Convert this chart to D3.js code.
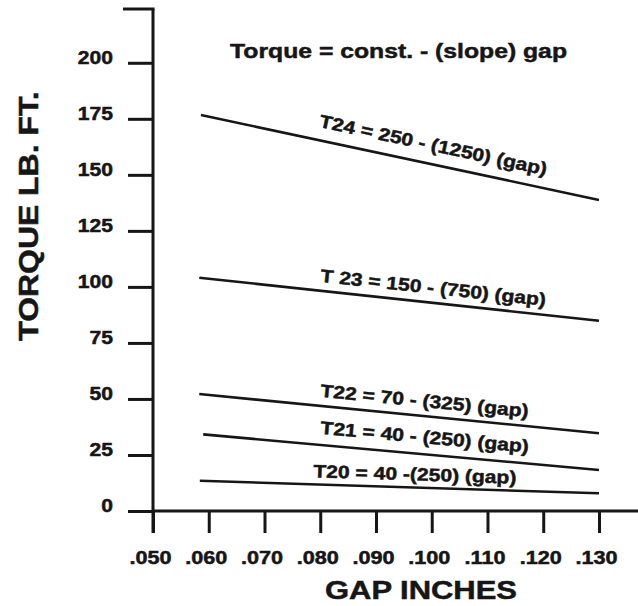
<!DOCTYPE html>
<html>
<head>
<meta charset="utf-8">
<script src="https://cdn.jsdelivr.net/npm/d3@7"></script>
<style>
  body { margin: 0; background: #fff; }
  svg text { font-family: "Liberation Sans", Arial, sans-serif; font-weight: bold; fill: #161616; stroke: #161616; stroke-width: 0.5px; }
</style>
</head>
<body>
<div id="chart"></div>
<script>
"use strict"

// data
const lineLabels = [
    "T24 = 250 - (1250) (gap)",
    "T 23 = 150 - (750) (gap)",
    "T22 = 70 - (325) (gap)",
    "T21 = 40 - (250) (gap)",
    "T20 = 40 -(250) (gap)"
];
const gapStart = [0.0586, 0.0583, 0.0583, 0.0590, 0.0584];
const gapEnd = [0.130, 0.130, 0.130, 0.130, 0.130];
const torqueStart = [176.7, 104.1, 52.2, 34.2, 13.5];
const torqueEnd = [138.8, 84.9, 34.7, 18.3, 7.9];

const yTicks = [0, 25, 50, 75, 100, 125, 150, 175, 200];
const xTicks = [0.05, 0.06, 0.07, 0.08, 0.09, 0.10, 0.11, 0.12, 0.13];
const xTickLabels = [".050", ".060", ".070", ".080", ".090", ".100", ".110", ".120", ".130"];

const title = "Torque = const. - (slope) gap";
const xTitle = "GAP INCHES";
const yTitle = "TORQUE LB. FT.";

// where each equation label sits (gap where it starts, offset above its line)
const labelGap = [0.0792, 0.0798, 0.0798, 0.0798, 0.0787];
const labelOffset = [-13, -9, -9, -11, -7];

const W = 638, H = 606;
const ink = "#161616";

const svg = d3.select("#chart").append("svg")
    .attr("width", W)
    .attr("height", H);

const x = d3.scaleLinear().domain([0.05, 0.137]).range([153, 638]);
const y = d3.scaleLinear().domain([0, 224]).range([511, 9]);

// stretch text a bit wider, the original lettering is broad
function widen(sel, k) {
    sel.attr("lengthAdjust", "spacingAndGlyphs")
       .attr("textLength", function() { return this.getComputedTextLength() * k; });
}

// y axis
const yAxis = svg.append("g")
    .attr("transform", "translate(153,0)")
    .call(d3.axisLeft(y).tickValues(yTicks).tickSize(25).tickSizeOuter(0).tickPadding(15));
yAxis.select(".domain").remove();
yAxis.selectAll(".tick line").attr("stroke", ink).attr("stroke-width", 3);
yAxis.selectAll(".tick text")
    .attr("dy", "0.02em")
    .style("font-size", "18px")
    .call(widen, 1.17);

// x axis
const xAxis = svg.append("g")
    .attr("transform", "translate(0,511)")
    .call(d3.axisBottom(x).tickValues(xTicks).tickSize(22).tickSizeOuter(0)
        .tickFormat((d, i) => xTickLabels[i]));
xAxis.select(".domain").remove();
xAxis.selectAll(".tick line").attr("stroke", ink).attr("stroke-width", 3);
xAxis.selectAll(".tick text")
    .attr("y", 53)
    .attr("dy", 0)
    .attr("dx", -3)
    .style("font-size", "18px")
    .call(widen, 1.2);

// axis lines
svg.append("line")
    .attr("x1", x(0.05)).attr("x2", x(0.05))
    .attr("y1", y.range()[1]).attr("y2", y(0) + 22)
    .attr("stroke", ink).attr("stroke-width", 3);
svg.append("line")
    .attr("x1", x(0.05) - 30).attr("x2", x(0.05) + 1.5)
    .attr("y1", y.range()[1]).attr("y2", y.range()[1])
    .attr("stroke", ink).attr("stroke-width", 3);
svg.append("line")
    .attr("x1", x(0.05)).attr("x2", x.range()[1])
    .attr("y1", y(0)).attr("y2", y(0))
    .attr("stroke", ink).attr("stroke-width", 3);

// the torque lines
const lines = lineLabels.map((name, i) => ({
    name: name,
    pts: [[gapStart[i], torqueStart[i]], [gapEnd[i], torqueEnd[i]]],
    labelGap: labelGap[i],
    offset: labelOffset[i]
}));

const lineGen = d3.line().x(d => x(d[0])).y(d => y(d[1]));

svg.selectAll("path.torque").data(lines).enter().append("path")
    .attr("class", "torque")
    .attr("d", d => lineGen(d.pts))
    .attr("fill", "none")
    .attr("stroke", ink)
    .attr("stroke-width", 2.6);

// equation labels along each line
svg.selectAll("text.eq").data(lines).enter().append("text")
    .attr("class", "eq")
    .attr("transform", d => {
        const a = d.pts[0], b = d.pts[1];
        const ang = Math.atan2(y(b[1]) - y(a[1]), x(b[0]) - x(a[0])) * 180 / Math.PI;
        const t = (d.labelGap - a[0]) / (b[0] - a[0]);
        const v = a[1] + t * (b[1] - a[1]);
        return "translate(" + x(d.labelGap) + "," + y(v) + ") rotate(" + ang + ")";
    })
    .attr("y", d => d.offset)
    .style("font-size", "18px")
    .text(d => d.name)
    .call(widen, 1.17);

// titles
svg.append("text")
    .attr("x", 230).attr("y", 58)
    .style("font-size", "21px")
    .attr("lengthAdjust", "spacingAndGlyphs")
    .attr("textLength", 337)
    .text(title);

svg.append("text")
    .attr("x", 421).attr("y", 599)
    .attr("text-anchor", "middle")
    .style("font-size", "26px")
    .text(xTitle)
    .call(widen, 1.19);

svg.append("text")
    .attr("transform", "translate(38,216) rotate(-90)")
    .attr("text-anchor", "middle")
    .style("font-size", "28px")
    .text(yTitle)
    .call(widen, 1.14);
</script>
</body>
</html>
